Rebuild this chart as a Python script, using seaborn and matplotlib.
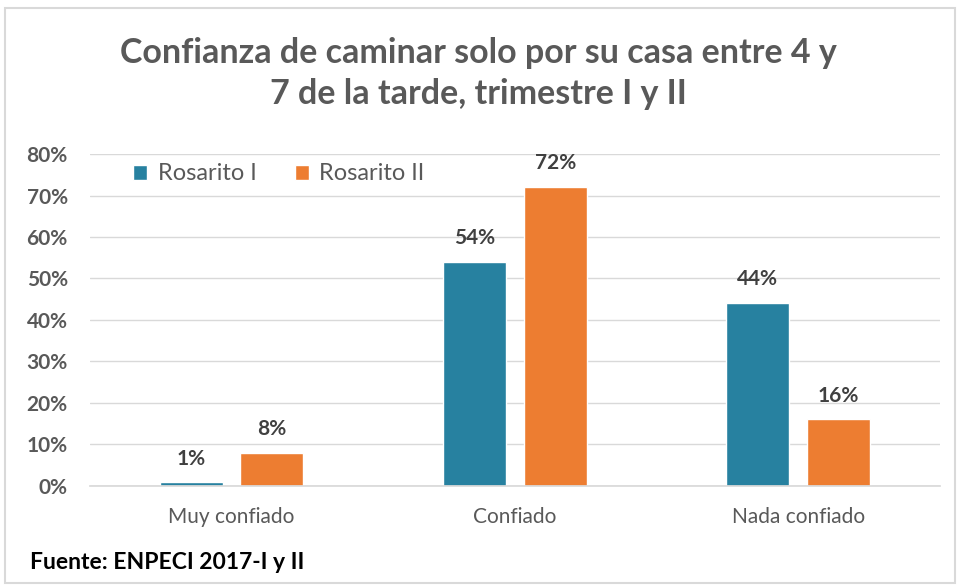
import matplotlib
matplotlib.use("Agg")
import matplotlib.pyplot as plt
import seaborn as sns
import pandas as pd
from matplotlib.patches import Rectangle
from matplotlib.ticker import PercentFormatter

categories = ["Muy confiado", "Confiado", "Nada confiado"]
series = ["Rosarito I", "Rosarito II"]
rosarito_1 = [0.008, 0.54, 0.44]
rosarito_2 = [0.08, 0.72, 0.16]
labels_1 = ["1%", "54%", "44%"]
labels_2 = ["8%", "72%", "16%"]
yticks = [0, 0.1, 0.2, 0.3, 0.4, 0.5, 0.6, 0.7, 0.8]

df = pd.DataFrame({
    "cat": categories * 2,
    "serie": [series[0]] * 3 + [series[1]] * 3,
    "val": rosarito_1 + rosarito_2,
    "lab": labels_1 + labels_2,
})

sns.set_theme(style="white")
plt.rcParams["font.family"] = ["Lato", "DejaVu Sans"]

fig = plt.figure(figsize=(9.57, 5.86), dpi=100)
ax = fig.add_axes([0.094, 0.171, 0.888, 0.566])

colors = ["#2781A0", "#ED7D31"]
sns.barplot(data=df, x="cat", y="val", hue="serie", palette=colors,
            width=0.57, gap=0.22, ax=ax, saturation=1, legend=True)

ax.set_ylim(0, 0.8)
ax.set_xlim(-0.5, 2.5)
ax.set_yticks(yticks)
ax.yaxis.set_major_formatter(PercentFormatter(1.0, decimals=0))
ax.grid(axis="y", color="#D9D9D9", linewidth=1)
ax.set_axisbelow(True)
for s in ["top", "right", "left"]:
    ax.spines[s].set_visible(False)
ax.spines["bottom"].set_color("#D9D9D9")
ax.set_xlabel("")
ax.set_ylabel("")
ax.tick_params(axis="y", length=0, pad=16, labelsize=15, labelcolor="#595959")
ax.tick_params(axis="x", length=0, pad=15, labelsize=15, labelcolor="#595959")
for t in ax.get_yticklabels():
    t.set_fontweight("bold")

for cont, labs in zip(ax.containers, [labels_1, labels_2]):
    ax.bar_label(cont, labels=labs, padding=10, fontsize=15,
                 fontweight="bold", color="#404040")

leg = ax.legend(loc="center left", bbox_to_anchor=(112 / 957, 1 - 174 / 586),
                bbox_transform=fig.transFigure, ncol=2, frameon=False,
                fontsize=17, handlelength=0.6, handleheight=0.6,
                columnspacing=1.6, handletextpad=0.45)
for t in leg.get_texts():
    t.set_color("#595959")

fig.text(0.5, 1 - 63 / 586, "Confianza de caminar solo por su casa entre 4 y",
         ha="center", va="baseline", fontsize=24.5, fontweight="bold", color="#595959")
fig.text(0.5, 1 - 104 / 586, "7 de la tarde, trimestre I y II",
         ha="center", va="baseline", fontsize=24.5, fontweight="bold", color="#595959")
fig.text(30 / 957, 1 - 569 / 586, "Fuente: ENPECI 2017-I y II",
         ha="left", va="baseline", fontsize=16.5, fontweight="bold", color="#000000")

fig.patches.append(Rectangle((5 / 957, 3 / 586), 950 / 957, 575 / 586,
                             transform=fig.transFigure, fill=False,
                             edgecolor="#D9D9D9", linewidth=1.5))

fig.savefig("out.png", dpi=100)
